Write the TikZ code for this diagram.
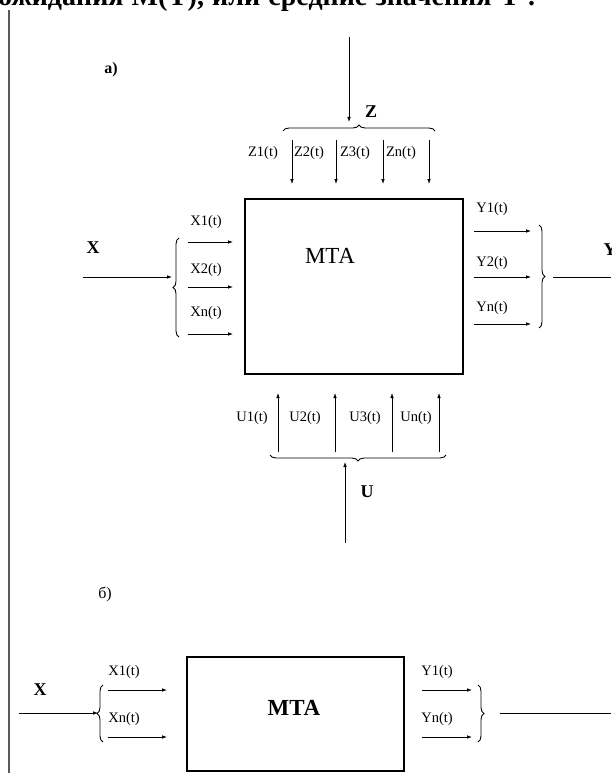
\documentclass[tikz,border=0pt]{standalone}
\usepackage{fontspec}
\setmainfont{Liberation Serif}
\usetikzlibrary{
	arrows.meta,
	decorations.pathreplacing,
	positioning
}
\tikzset{
	sig/.style={-{Latex[length=5pt,width=3.6pt]}, line width=0.8pt},
	brc/.style={decorate, decoration={brace, amplitude=6pt}, line width=0.9pt},
	lbl/.style={font=\fontsize{14.5}{14.5}\selectfont, inner sep=0pt},
	big/.style={font=\bfseries\fontsize{18}{18}\selectfont, inner sep=0pt},
	blk/.style={draw, line width=1.4pt, inner sep=0pt}
}

\begin{document}
\begin{tikzpicture}[x=1pt, y=-1pt]
	\useasboundingbox (0,0) rectangle (611,773);
	% text line cut by the page
	\node[anchor=base west, inner sep=0pt, font=\bfseries\fontsize{28}{28}\selectfont] (head) at (-2,6) {\makebox[537pt][s]{ожидания M(Y), или средние значения Y .}};
	\draw[line width=1.5pt, black!65] (9,10) -- (9,773);

	% a)
	\node[font=\bfseries\fontsize{16}{16}\selectfont] (parta) at (111,70) {а)};
	\node[blk, minimum width=218pt, minimum height=175pt] (mta) at (354,286.5) {};
	\node[font=\fontsize{23}{23}\selectfont] (mtatxt) at (330,256) {МТА};

	% Z
	\coordinate (ztop) at (349,37);
	\coordinate (ztip) at (349,122);
	\draw[sig] (ztop) -- (ztip);
	\node[big] (zname) at (371,112) {Z};
	\coordinate (zbl) at (283,131);
	\coordinate (zbr) at (435,131);
	\draw[brc] (zbl) -- (zbr);
	\foreach \x [count=\i] in {292,336,383,429} {
		\coordinate (zs\i) at (\x,140);
		\coordinate (ze\i) at (\x,184);
		\draw[sig] (zs\i) -- (ze\i);
	}
	\foreach \x/\t [count=\i] in {263/Z1(t),309/Z2(t),355/Z3(t),401/Zn(t)}
		\node[lbl] (zl\i) at (\x,153) {\t};

	% X
	\node[big] (xname) at (93,248) {X};
	\coordinate (xin) at (83,277);
	\coordinate (xtip) at (172,277);
	\draw[sig] (xin) -- (xtip);
	\coordinate (xbb) at (179,337);
	\coordinate (xbt) at (179,238);
	\draw[brc] (xbb) -- (xbt);
	\foreach \y [count=\i] in {242,287,334} {
		\coordinate (xs\i) at (188,\y);
		\coordinate (xe\i) at (233,\y);
		\draw[sig] (xs\i) -- (xe\i);
	}
	\foreach \y/\t [count=\i] in {222/X1(t),270/X2(t),313/Xn(t)}
		\node[lbl] (xl\i) at (206,\y) {\t};

	% Y
	\foreach \y [count=\i] in {231,277,324} {
		\coordinate (ys\i) at (474,\y);
		\coordinate (ye\i) at (531,\y);
		\draw[sig] (ys\i) -- (ye\i);
	}
	\foreach \y/\t [count=\i] in {209/Y1(t),263/Y2(t),308/Yn(t)}
		\node[lbl] (yl\i) at (492,\y) {\t};
	\coordinate (ybt) at (539,225);
	\coordinate (ybb) at (539,328);
	\draw[brc] (ybt) -- (ybb);
	\coordinate (yout) at (553,277);
	\coordinate (yend) at (611,277);
	\draw[line width=0.8pt] (yout) -- (yend);
	\node[big] (yname) at (610,250) {Y};

	% U
	\foreach \x [count=\i] in {278,335,392,439} {
		\coordinate (us\i) at (\x,452);
		\coordinate (ue\i) at (\x,393);
		\draw[sig] (us\i) -- (ue\i);
	}
	\foreach \x/\t [count=\i] in {252/U1(t),305/U2(t),365/U3(t),416/Un(t)}
		\node[lbl] (ul\i) at (\x,418) {\t};
	\coordinate (ubr) at (446,455);
	\coordinate (ubl) at (270,455);
	\draw[brc] (ubr) -- (ubl);
	\coordinate (ubot) at (345,543);
	\coordinate (utip) at (345,462);
	\draw[sig] (ubot) -- (utip);
	\node[big] (uname) at (367,492) {U};

	% b)
	\node[font=\fontsize{16}{16}\selectfont] (partb) at (105,594) {б)};
	\node[blk, minimum width=217pt, minimum height=114pt] (mtab) at (295.5,714) {};
	\node[font=\bfseries\fontsize{23}{23}\selectfont] (mtabtxt) at (294,708) {МТА};
	\node[big] (xbname) at (40,690) {X};
	\coordinate (xbin) at (19,713);
	\coordinate (xbtip) at (98,713);
	\draw[sig] (xbin) -- (xbtip);
	\coordinate (xbbb) at (103,742);
	\coordinate (xbbt) at (103,685);
	\draw[brc] (xbbb) -- (xbbt);
	\foreach \y/\t [count=\i] in {690/X1(t),737/Xn(t)} {
		\coordinate (xbs\i) at (108,\y);
		\coordinate (xbe\i) at (167,\y);
		\draw[sig] (xbs\i) -- (xbe\i);
		\node[lbl] (xbl\i) at (124,\y-18) {\t};
	}
	\foreach \y/\t [count=\i] in {690/Y1(t),737/Yn(t)} {
		\coordinate (ybs\i) at (422,\y);
		\coordinate (ybe\i) at (472,\y);
		\draw[sig] (ybs\i) -- (ybe\i);
		\node[lbl] (ybl\i) at (437,\y-18) {\t};
	}
	\coordinate (ybbt) at (478,685);
	\coordinate (ybbb) at (478,742);
	\draw[brc] (ybbt) -- (ybbb);
	\coordinate (ybout) at (500,713);
	\coordinate (ybend) at (611,713);
	\draw[line width=0.8pt] (ybout) -- (ybend);
\end{tikzpicture}
\end{document}
